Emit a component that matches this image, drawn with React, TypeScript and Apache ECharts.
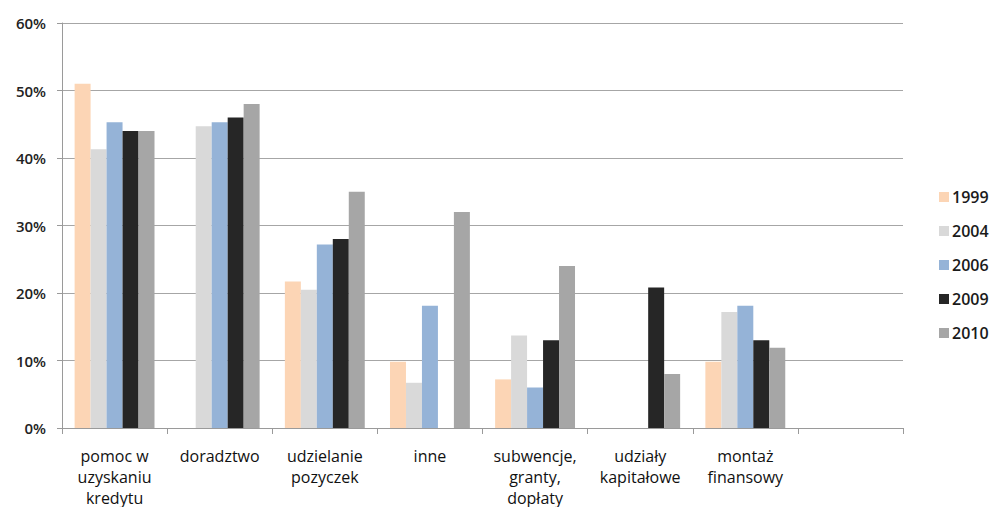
import React, { useEffect, useRef } from "react";
import * as echarts from "echarts";

const categories = [
  "pomoc w\nuzyskaniu\nkredytu",
  "doradztwo",
  "udzielanie\npozyczek",
  "inne",
  "subwencje,\ngranty,\ndopłaty",
  "udziały\nkapitałowe",
  "montaż\nfinansowy",
  "",
];
const seriesNames = ["1999", "2004", "2006", "2009", "2010"];
const v1999 = [51, null, 21.7, 9.8, 7.2, null, 9.8, null];
const v2004 = [41.3, 44.7, 20.5, 6.7, 13.7, null, 17.2, null];
const v2006 = [45.3, 45.3, 27.2, 18.1, 6, null, 18.1, null];
const v2009 = [44, 46, 28, null, 13, 20.8, 13, null];
const v2010 = [44, 48, 35, 32, 24, 8, 11.9, null];
const seriesValues = [v1999, v2004, v2006, v2009, v2010];
const colors = ["#FCD5B5", "#D9D9D9", "#95B3D7", "#262626", "#A6A6A6"];
const yTicks = [0, 10, 20, 30, 40, 50, 60];

const FONT = "'Open Sans', 'Noto Sans', sans-serif";

export default function App() {
  const ref = useRef<HTMLDivElement>(null);
  useEffect(() => {
    if (!ref.current) return;
    const chart = echarts.init(ref.current, null, { renderer: "svg" });
    chart.setOption({
      animation: false,
      grid: { left: 62, right: 88, top: 23, bottom: 79, containLabel: false, outerBoundsMode: "none" },
      legend: {
        orient: "vertical",
        left: 934,
        top: 184,
        itemWidth: 10,
        itemHeight: 10,
        itemGap: 18,
        icon: "rect",
        textStyle: { fontFamily: FONT, fontSize: 16, color: "#1a1a1a", fontWeight: 600, padding: [0, 0, 0, -2] },
        data: seriesNames,
      },
      xAxis: {
        type: "category",
        data: categories,
        axisLine: { lineStyle: { color: "#9a9a9a", width: 1 } },
        axisTick: { show: true, length: 6, alignWithLabel: false, interval: 0, lineStyle: { color: "#9a9a9a" } },
        axisLabel: {
          interval: 0,
          margin: 17,
          fontFamily: FONT,
          fontSize: 16,
          lineHeight: 21,
          color: "#111",
        },
      },
      yAxis: {
        type: "value",
        min: 0,
        max: 60,
        interval: 10,
        axisLine: { show: true, lineStyle: { color: "#9a9a9a", width: 1 } },
        axisTick: { show: true, length: 5, lineStyle: { color: "#9a9a9a" } },
        splitLine: { lineStyle: { color: "#a6a6a6", width: 1 } },
        axisLabel: {
          formatter: (v: number) => (yTicks.includes(v) ? v + "%" : ""),
          fontFamily: FONT,
          fontSize: 15,
          fontWeight: 600,
          color: "#222",
          margin: 16,
        },
      },
      series: seriesNames.map((name, i) => ({
        name,
        type: "bar",
        data: seriesValues[i],
        itemStyle: { color: colors[i] },
        barGap: "0%",
        barCategoryGap: "24%",
      })),
    });
    return () => chart.dispose();
  }, []);
  return (
    <div
      ref={ref}
      style={{ position: "fixed", left: 0, top: 0, width: 991, height: 507, background: "#fff" }}
    />
  );
}
